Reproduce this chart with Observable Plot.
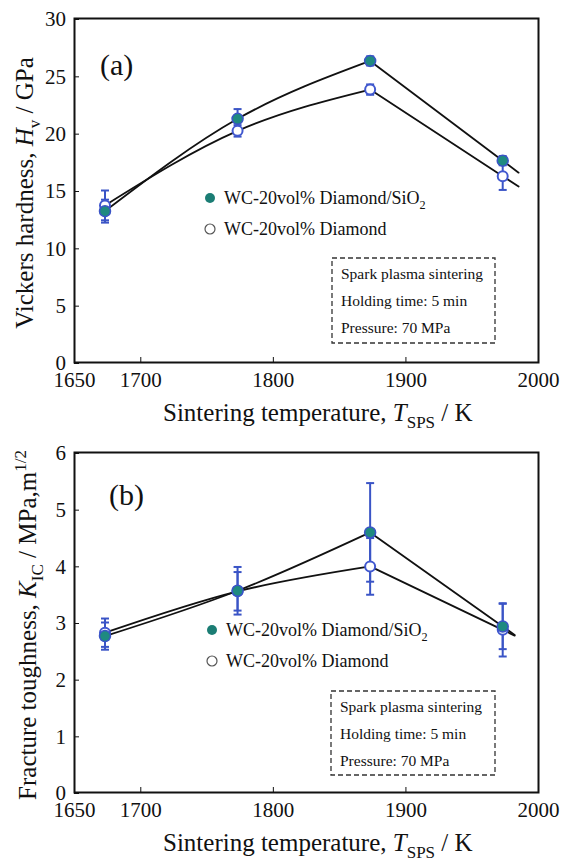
<!DOCTYPE html>
<html><head><meta charset="utf-8">
<script src="https://cdn.jsdelivr.net/npm/d3@7"></script>
<script src="https://cdn.jsdelivr.net/npm/@observablehq/plot@0.6"></script>
<style>
html,body{margin:0;padding:0;background:#fff;}
#chart{width:564px;height:859px;overflow:hidden;}
#chart svg{display:block;}
</style></head><body><div id="chart"></div>
<script>
// ---- data ----
const temps = [1673, 1773, 1873, 1973];
const seriesNames = ["WC-20vol% Diamond/SiO", "WC-20vol% Diamond"];
const hvSiO2 = [13.2, 21.25, 26.3, 17.6];
const hvSiO2Err = [1.0, 0.85, 0.4, 0.4];
const hvDia = [13.7, 20.2, 23.8, 16.25];
const hvDiaErr = [1.3, 0.5, 0.45, 1.2];
const kSiO2 = [2.76, 3.56, 4.59, 2.93];
const kSiO2Err = [0.24, 0.42, 0.87, 0.4];
const kDia = [2.82, 3.55, 3.99, 2.87];
const kDiaErr = [0.25, 0.34, 0.5, 0.47];
const xTicks = [1650, 1700, 1800, 1900, 2000];
const hvTicks = [0, 5, 10, 15, 20, 25, 30];
const kTicks = [0, 1, 2, 3, 4, 5, 6];
const fitEndA = 1985, fitEndB = 1982;
const boxLines = ["Spark plasma sintering", "Holding time: 5 min", "Pressure: 70 MPa"];

const FONT = "Liberation Serif, Times New Roman, serif";
const BLUE = "#3a54c6";
const TEAL = "#1f8a80";
const cap = {draw(ctx, size) { const r = Math.sqrt(size / Math.PI); ctx.moveTo(-r, 0); ctx.lineTo(r, 0); }};

function richText(g, {x, y, size, anchor = "start", rotate = 0, parts}) {
  const t = g.append("text")
    .attr("transform", `translate(${x},${y}) rotate(${rotate})`)
    .attr("text-anchor", anchor).attr("font-size", size)
    .attr("font-family", FONT).attr("fill", "#111");
  let shift = 0;
  for (const p of parts) {
    const target = p.sub ? size * 0.28 : p.sup ? -size * 0.42 : 0;
    const ts = t.append("tspan").text(p.t).attr("dy", target - shift);
    if (p.sub || p.sup) ts.attr("font-size", size * 0.68);
    if (p.italic) ts.attr("font-style", "italic");
    shift = target;
  }
  return t;
}

function makePanel(cfg) {
  const {vals, errs, yDomain, yTicks, height, marginTop, marginBottom, fitEnd} = cfg;
  const rows = [];
  vals.forEach((arr, s) => arr.forEach((v, i) => rows.push({s, T: temps[i], v, e: errs[s][i]})));
  const rise = [], fall = [];
  vals.forEach((arr, s) => {
    for (let i = 0; i < 3; i++) rise.push({s, T: temps[i], v: arr[i]});
    const slope = (arr[3] - arr[2]) / (temps[3] - temps[2]);
    fall.push({s, T: temps[2], v: arr[2]}, {s, T: temps[3], v: arr[3]},
              {s, T: fitEnd, v: arr[3] + slope * (fitEnd - temps[3])});
  });
  const open = rows.filter(d => d.s === 1), filled = rows.filter(d => d.s === 0);
  return Plot.plot({
    width: 564, height, marginTop, marginBottom, marginLeft: 74, marginRight: 26,
    x: {domain: [1650, 2000]},
    y: {domain: yDomain},
    style: {fontFamily: FONT, fontSize: "21px", color: "#111", background: "white", overflow: "visible"},
    marks: [
      Plot.line(rise, {x: "T", y: "v", z: "s", curve: "natural", stroke: "#111", strokeWidth: 1.8}),
      Plot.line(fall, {x: "T", y: "v", z: "s", stroke: "#111", strokeWidth: 1.8}),
      Plot.ruleX(rows, {x: "T", y1: d => d.v - d.e, y2: d => d.v + d.e, stroke: BLUE, strokeWidth: 2}),
      Plot.dot(rows, {x: "T", y: d => d.v + d.e, symbol: cap, r: 4, fill: "none", stroke: BLUE, strokeWidth: 2}),
      Plot.dot(rows, {x: "T", y: d => d.v - d.e, symbol: cap, r: 4, fill: "none", stroke: BLUE, strokeWidth: 2}),
      Plot.dot(open, {x: "T", y: "v", r: 5, fill: "white", stroke: "#4158cf", strokeWidth: 2}),
      Plot.dot(filled, {x: "T", y: "v", r: 5.5, fill: TEAL, stroke: BLUE, strokeWidth: 1.5}),
      Plot.axisX(xTicks, {tickSize: -5, tickPadding: 15, tickFormat: d3.format("d"), label: null,
        fontFamily: FONT, fontSize: 21}),
      Plot.axisY(yTicks, {tickSize: -5, tickPadding: 13.5, tickFormat: d3.format("d"), label: null,
        fontFamily: FONT, fontSize: 21, dy: 1}),
      Plot.frame({stroke: "#111", strokeWidth: 2})
    ]
  });
}

function plainText(g, x, y, size, s) {
  return g.append("text").attr("x", x).attr("y", y).attr("font-size", size)
    .attr("font-family", FONT).attr("text-anchor", "start").attr("fill", "#111").text(s);
}

function decorate(svg, o) {
  const g = d3.select(svg).append("g").attr("text-anchor", "start");
  // panel label
  plainText(g, o.tag[0], o.tag[1], 30, o.tagText);
  // y label
  richText(g, {x: o.ylab[0], y: o.ylab[1], size: 25, anchor: "middle", rotate: -90, parts: o.yParts});
  // x label
  richText(g, {x: 163, y: 421, size: 25, parts: [
    {t: "Sintering temperature, "}, {t: "T", italic: true}, {t: "SPS", sub: true}, {t: " / K"}]});
  // legend
  const [lx, ly] = o.legend;
  g.append("circle").attr("cx", lx).attr("cy", ly).attr("r", 5).attr("fill", "#1b7d74");
  richText(g, {x: lx + 14, y: ly + 6, size: 18, parts: [{t: seriesNames[0]}, {t: "2", sub: true}]});
  g.append("circle").attr("cx", lx).attr("cy", ly + 31).attr("r", 5).attr("fill", "white")
    .attr("stroke", "#555").attr("stroke-width", 1.2);
  richText(g, {x: lx + 14, y: ly + 37, size: 18, parts: [{t: seriesNames[1]}]});
  // dashed box
  const [bx, by, bw, bh] = o.box;
  g.append("rect").attr("x", bx).attr("y", by).attr("width", bw).attr("height", bh)
    .attr("fill", "none").attr("stroke", "#333").attr("stroke-width", 1.3).attr("stroke-dasharray", "5,3");
  boxLines.forEach((s, i) => plainText(g, bx + 9, by + 20.5 + i * 27.3, 15.5, s));
}

const chart = document.getElementById("chart");

const svgA = makePanel({vals: [hvSiO2, hvDia], errs: [hvSiO2Err, hvDiaErr], yDomain: [0, 30], yTicks: hvTicks,
  height: 430, marginTop: 18, marginBottom: 68, fitEnd: fitEndA});
decorate(svgA, {tag: [100, 75], tagText: "(a)", ylab: [33, 193],
  yParts: [{t: "Vickers hardness, "}, {t: "H", italic: true}, {t: "v", sub: true}, {t: " / GPa"}],
  legend: [210, 198], box: [332, 258, 163, 85]});
chart.appendChild(svgA);

const svgB = makePanel({vals: [kSiO2, kDia], errs: [kSiO2Err, kDiaErr], yDomain: [0, 6], yTicks: kTicks,
  height: 429, marginTop: 22, marginBottom: 67, fitEnd: fitEndB});
decorate(svgB, {tag: [109, 75], tagText: "(b)", ylab: [36, 195],
  yParts: [{t: "Fracture toughness, "}, {t: "K", italic: true}, {t: "IC", sub: true}, {t: " / MPa,m"}, {t: "1/2", sup: true}],
  legend: [212, 200], box: [331, 261, 164, 84]});
chart.appendChild(svgB);
</script>
</body></html>
